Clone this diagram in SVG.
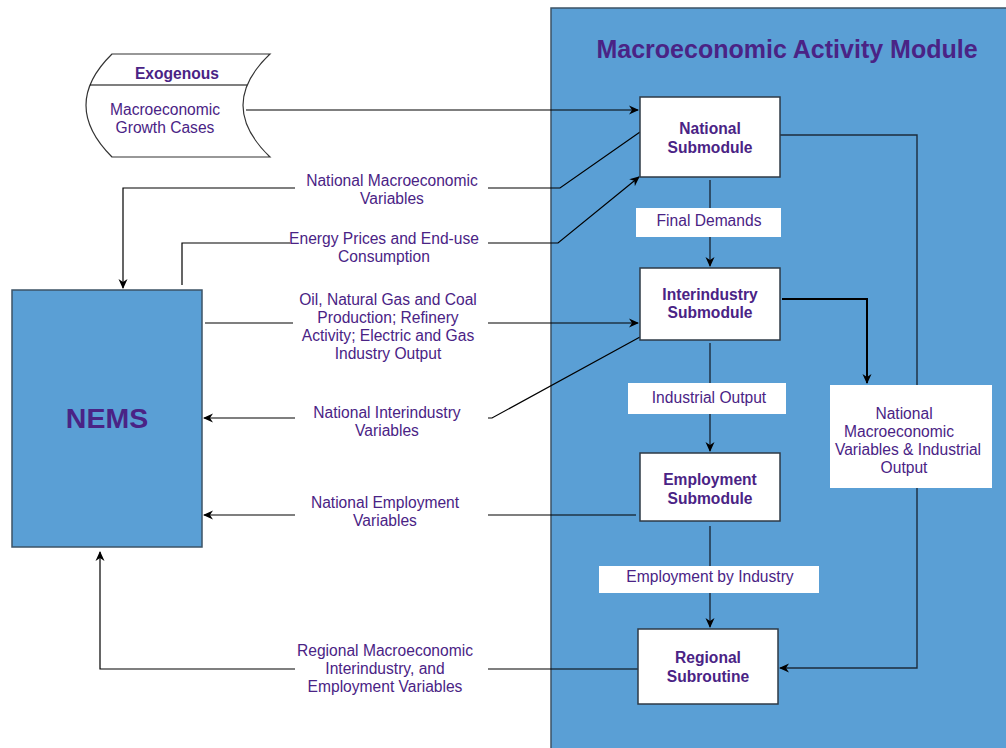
<svg xmlns="http://www.w3.org/2000/svg" width="1006" height="748" viewBox="0 0 1006 748">
<defs>
<marker id="ah" markerWidth="10" markerHeight="10" refX="9" refY="5" orient="auto" markerUnits="userSpaceOnUse">
<path d="M0,0.5 L10,5 L0,9.5 L3,5 Z" fill="#000"/>
</marker>
<style>
.t{font-family:"Liberation Sans",Arial,sans-serif;font-size:15.6px;fill:#4a2385;text-anchor:middle}
.b{font-weight:bold}
.box{fill:#fff;stroke:#2e3a46;stroke-width:1.5}
.lbl{fill:#fff;stroke:none}
.c{fill:none;stroke:#000;stroke-width:1.2}
.ci{fill:none;stroke:#1c2c3c;stroke-width:1.4}
</style>
</defs>
<rect width="1006" height="748" fill="#fff"/>

<g id="module">
<rect x="551" y="8" width="460" height="750" fill="#5a9fd5" stroke="#3d5366" stroke-width="1.5"/>
<text class="t b" x="787" y="58" style="font-size:25px">Macroeconomic Activity Module</text>
</g>

<g id="connectors">
<path class="c" d="M246,110 H638" marker-end="url(#ah)"/>
<path class="c" d="M640,132 L560,188 H488"/>
<path class="c" d="M295,188 H123 V288" marker-end="url(#ah)"/>
<path class="c" d="M182,285 V243 H290"/>
<path class="c" d="M488,243 H558 L639,177" marker-end="url(#ah)"/>
<path class="c" d="M205,323 H293"/>
<path class="c" d="M488,323 H638" marker-end="url(#ah)"/>
<path class="c" d="M640,337 L492,418 H488"/>
<path class="c" d="M295,418 H204" marker-end="url(#ah)"/>
<path class="c" d="M636,515 H488"/>
<path class="c" d="M295,515 H204" marker-end="url(#ah)"/>
<path class="c" d="M638,669 H488"/>
<path class="c" d="M295,669 H100 V552" marker-end="url(#ah)"/>
<path class="ci" d="M710,180 V208"/>
<path class="ci" d="M710,237 V266" marker-end="url(#ah)"/>
<path class="ci" d="M710,343 V383"/>
<path class="ci" d="M710,414 V451" marker-end="url(#ah)"/>
<path class="ci" d="M710,526 V566"/>
<path class="ci" d="M710,593 V627" marker-end="url(#ah)"/>
<path class="ci" d="M780,135 H917 V668 H780" marker-end="url(#ah)"/>
<path class="c" d="M782,299 H867 V383" style="stroke-width:2" marker-end="url(#ah)"/>
</g>

<g id="exogenous">
<path d="M112,54 H270 Q216,105 270,157 H112 Q60,105 112,54 Z" fill="#fff" stroke="#333" stroke-width="1.2"/>
<line x1="90" y1="85" x2="247" y2="85" stroke="#000" stroke-width="1.2"/>
<text class="t b" x="177" y="79">Exogenous</text>
<text class="t" x="165" y="115">Macroeconomic</text>
<text class="t" x="165" y="133">Growth Cases</text>
</g>

<g id="nems">
<rect x="12" y="290" width="190" height="257" fill="#5a9fd5" stroke="#3d5366" stroke-width="1.5"/>
<text class="t b" x="107" y="428" style="font-size:28.5px">NEMS</text>
</g>

<g id="national">
<rect class="box" x="640" y="97" width="140" height="80"/>
<text class="t b" x="710" y="134">National</text>
<text class="t b" x="710" y="153">Submodule</text>
</g>
<g id="interindustry">
<rect class="box" x="640" y="268" width="140" height="72"/>
<text class="t b" x="710" y="300">Interindustry</text>
<text class="t b" x="710" y="318">Submodule</text>
</g>
<g id="employment">
<rect class="box" x="640" y="453" width="140" height="68"/>
<text class="t b" x="710" y="485">Employment</text>
<text class="t b" x="710" y="504">Submodule</text>
</g>
<g id="regional">
<rect class="box" x="638" y="629" width="140" height="75"/>
<text class="t b" x="708" y="663">Regional</text>
<text class="t b" x="708" y="682">Subroutine</text>
</g>

<g id="labels">
<rect class="lbl" x="636" y="208" width="145" height="29"/>
<text class="t" x="709" y="226">Final Demands</text>
<rect class="lbl" x="628" y="383" width="158" height="31"/>
<text class="t" x="709" y="403">Industrial Output</text>
<rect class="lbl" x="599" y="566" width="220" height="27"/>
<text class="t" x="710" y="582">Employment by  Industry</text>
<rect class="lbl" x="830" y="385" width="162" height="103"/>
<text class="t" x="904" y="419">National</text>
<text class="t" x="899" y="437">Macroeconomic</text>
<text class="t" x="908" y="455">Variables &amp; Industrial</text>
<text class="t" x="904" y="473">Output</text>

<text class="t" x="392" y="186">National Macroeconomic</text>
<text class="t" x="392" y="204">Variables</text>
<text class="t" x="384" y="244">Energy Prices and End-use</text>
<text class="t" x="384" y="262">Consumption</text>
<text class="t" x="388" y="305">Oil, Natural Gas and Coal</text>
<text class="t" x="388" y="323">Production; Refinery</text>
<text class="t" x="388" y="341">Activity; Electric and Gas</text>
<text class="t" x="388" y="359">Industry Output</text>
<text class="t" x="387" y="418">National Interindustry</text>
<text class="t" x="387" y="436">Variables</text>
<text class="t" x="385" y="508">National Employment</text>
<text class="t" x="385" y="526">Variables</text>
<text class="t" x="385" y="656">Regional Macroeconomic</text>
<text class="t" x="385" y="674">Interindustry, and</text>
<text class="t" x="385" y="692">Employment Variables</text>
</g>
</svg>
